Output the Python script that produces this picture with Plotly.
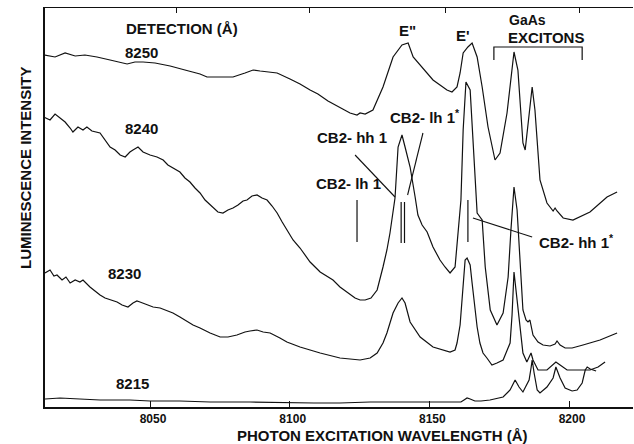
import plotly.graph_objects as go

# ---- data (arbitrary intensity units, curves offset vertically as in the figure) ----
wl_8250 = [8012.0, 8016.0, 8019.6, 8023.2, 8026.7, 8031.0, 8035.7, 8039.3, 8041.8, 8044.6,
           8047.5, 8051.8, 8057.2, 8062.5, 8067.9, 8070.4, 8075.1, 8079.7, 8084.0, 8086.9,
           8089.4, 8093.0, 8095.5, 8100.1, 8103.7, 8107.3, 8110.1, 8113.7, 8118.0, 8121.6,
           8124.1, 8125.2, 8127.0, 8129.8, 8133.4, 8137.0, 8140.2, 8142.4, 8144.2, 8147.7,
           8151.3, 8156.3, 8158.1, 8159.9, 8161.0, 8162.1, 8163.8, 8165.3, 8167.1, 8168.9,
           8171.0, 8173.5, 8175.3, 8177.8, 8179.6, 8180.3, 8181.7, 8183.5, 8184.3, 8185.3,
           8186.8, 8187.8, 8189.6, 8192.1, 8194.3, 8195.0, 8195.7, 8197.9, 8201.4, 8207.5,
           8213.6, 8217.2]
int_8250 = [352, 350, 354, 351, 352, 350, 347, 345, 343, 345,
            345, 344, 341, 337, 333, 330, 330, 330, 334, 337,
            336, 335, 334, 328, 323, 317, 313, 306, 299, 294,
            292, 294, 293, 297, 320, 350, 362, 364, 350, 339,
            327, 317, 315, 320, 334, 354, 360, 364, 350, 320,
            280, 247, 254, 294, 337, 355, 337, 264, 257, 280,
            320, 297, 227, 204, 196, 199, 196, 189, 187, 195,
            210, 215]

wl_8240 = [8012.0, 8014.2, 8016.0, 8017.8, 8019.6, 8021.4, 8022.4, 8024.2, 8026.0, 8027.4,
           8029.2, 8032.1, 8033.9, 8035.7, 8037.5, 8039.3, 8041.1, 8042.8, 8043.9, 8045.7,
           8047.5, 8050.0, 8052.5, 8054.7, 8056.4, 8058.2, 8060.7, 8062.5, 8064.3, 8066.1,
           8067.9, 8069.7, 8071.5, 8072.6, 8074.3, 8076.1, 8077.9, 8079.7, 8081.5, 8083.3,
           8084.7, 8086.5, 8088.3, 8090.1, 8091.9, 8093.7, 8095.5, 8097.3, 8099.0, 8101.2,
           8103.7, 8107.3, 8110.9, 8113.4, 8115.5, 8118.0, 8120.9, 8123.4, 8125.2, 8127.0,
           8129.1, 8131.3, 8133.4, 8134.8, 8135.9, 8137.0, 8137.7, 8138.8, 8140.2, 8141.3,
           8143.1, 8144.9, 8145.9, 8147.4, 8149.2, 8151.3, 8153.8, 8155.6, 8157.4, 8159.2,
           8160.3, 8161.3, 8162.1, 8163.1, 8164.6, 8165.6, 8167.1, 8168.9, 8170.0, 8171.8,
           8174.2, 8176.4, 8178.2, 8179.2, 8180.3, 8181.4, 8182.1, 8182.8, 8183.5, 8184.6,
           8185.3, 8186.0, 8187.1, 8188.9, 8190.7, 8193.2, 8195.0, 8195.7, 8196.8, 8198.6,
           8201.1, 8205.0, 8211.1, 8217.2]
int_8240 = [290, 287, 293, 289, 285, 279, 275, 280, 277, 280,
            276, 274, 267, 260, 257, 252, 250, 255, 257, 260,
            255, 252, 250, 247, 242, 239, 235, 229, 225, 219,
            214, 207, 202, 199, 195, 194, 197, 199, 202, 206,
            207, 211, 212, 209, 207, 201, 194, 185, 177, 167,
            159, 145, 135, 131, 127, 120, 114, 109, 107, 107,
            109, 117, 140, 157, 174, 197, 209, 260, 272, 260,
            240, 210, 192, 182, 175, 160, 147, 140, 134, 140,
            174, 207, 277, 325, 317, 270, 194, 187, 140, 97,
            82, 94, 130, 177, 220, 197, 167, 127, 97, 87,
            85, 87, 72, 65, 62, 61, 63, 66, 62, 59,
            59, 62, 67, 74]

wl_8230 = [8012.4, 8014.2, 8015.6, 8016.7, 8018.5, 8019.9, 8021.4, 8023.2, 8024.9, 8026.0,
           8028.5, 8032.1, 8033.9, 8035.7, 8038.2, 8040.0, 8042.1, 8043.9, 8045.3, 8046.4,
           8048.2, 8051.1, 8053.6, 8056.1, 8058.2, 8060.7, 8063.2, 8065.4, 8067.9, 8071.5,
           8075.1, 8077.9, 8081.1, 8084.0, 8085.8, 8088.3, 8090.5, 8093.0, 8096.5, 8099.0,
           8103.7, 8110.9, 8118.0, 8125.2, 8128.8, 8131.3, 8133.4, 8134.8, 8137.0, 8138.8,
           8140.2, 8141.3, 8143.1, 8144.9, 8146.7, 8151.3, 8157.4, 8159.2, 8159.9, 8161.0,
           8161.7, 8162.8, 8163.5, 8164.6, 8165.3, 8167.1, 8168.1, 8169.2, 8170.6, 8172.4,
           8174.2, 8176.4, 8178.9, 8179.6, 8180.3, 8181.0, 8181.7, 8182.8, 8183.5, 8184.9,
           8186.4, 8187.1, 8188.9, 8192.1, 8194.3, 8195.3, 8196.8, 8199.3, 8203.9, 8207.5,
           8210.4, 8212.9]
int_8230 = [134, 137, 131, 132, 127, 130, 124, 127, 125, 127,
            120, 112, 109, 107, 105, 102, 100, 104, 106, 105,
            103, 100, 99, 96, 94, 90, 86, 82, 79, 74,
            70, 70, 72, 75, 76, 77, 75, 74, 69, 65,
            60, 54, 49, 47, 49, 54, 64, 74, 94, 104,
            109, 104, 85, 77, 70, 60, 55, 57, 64, 82,
            107, 147, 149, 142, 124, 80, 64, 54, 49, 42,
            44, 47, 64, 92, 135, 117, 97, 67, 54, 45,
            54, 47, 37, 37, 42, 45, 42, 37, 37, 37,
            40, 45]

wl_8215 = [8012.4, 8017.8, 8024.9, 8032.1, 8042.8, 8050.0, 8060.7, 8071.5, 8085.8, 8099.8,
           8108.7, 8118.0, 8128.8, 8139.9, 8150.2, 8161.3, 8162.4, 8163.5, 8164.6, 8166.3,
           8168.5, 8171.7, 8176.4, 8178.9, 8180.7, 8182.1, 8183.5, 8184.9, 8185.7, 8186.4,
           8186.8, 8187.5, 8188.6, 8189.6, 8192.1, 8194.3, 8195.3, 8196.8, 8198.6, 8201.1,
           8202.9, 8204.7, 8205.8, 8206.5, 8207.6, 8209.7]
int_8215 = [8, 9, 8, 7, 7, 6, 6, 5, 5, 4,
            4, 4, 5, 5, 5, 5, 7, 9, 8, 6,
            6, 7, 10, 17, 27, 20, 15, 22, 27, 39,
            47, 34, 17, 14, 20, 29, 40, 29, 19, 16,
            17, 24, 37, 40, 38, 36]

x_ticks = [8050, 8100, 8150, 8200]
top_ticks = [8059.3, 8107.2, 8155.9, 8203.9]
marker_wl_a = [8124.1, 8163.8]
marker_wl_b = [8139.9, 8141.1]

FONT = "Liberation Sans, Arial, sans-serif"
INK = "#111111"

fig = go.Figure()
for wl, it in [(wl_8250, int_8250), (wl_8240, int_8240), (wl_8230, int_8230), (wl_8215, int_8215)]:
    fig.add_trace(go.Scatter(x=wl, y=it, mode="lines", line=dict(color=INK, width=1.2),
                             showlegend=False, hoverinfo="skip"))
fig.add_trace(go.Scatter(x=[], y=[], xaxis="x2", showlegend=False))

shapes = []
for w in marker_wl_a:
    shapes.append(dict(type="line", xref="x", yref="y", x0=w, x1=w, y0=165, y1=207,
                       line=dict(color=INK, width=1.2)))
for w in marker_wl_b:
    shapes.append(dict(type="line", xref="x", yref="y", x0=w, x1=w, y0=164, y1=205,
                       line=dict(color=INK, width=1.2)))
# leader lines
for (xa, ya, xb, yb) in [(8123.4, 252, 8137.7, 210), (8147.7, 274, 8142.2, 212),
                         (8165.6, 189, 8186.8, 170)]:
    shapes.append(dict(type="line", xref="x", yref="y", x0=xa, y0=ya, x1=xb, y1=yb,
                       line=dict(color=INK, width=1.1)))
# exciton bracket
shapes.append(dict(type="path", xref="x", yref="y",
                   path="M 8173.1 347 L 8173.1 360 L 8204.7 360 L 8204.7 347",
                   line=dict(color=INK, width=1.2)))

def ann(text, x, y, size=15, **kw):
    return dict(text=f"<b>{text}</b>", x=x, y=y, xref="x", yref="y", showarrow=False,
                font=dict(family=FONT, size=size, color=INK), **kw)

annotations = [
    ann("DETECTION (Å)", 8061.5, 379),
    ann("8250", 8047.1, 355),
    ann("8240", 8047.1, 279),
    ann("8230", 8041.0, 134),
    ann("8215", 8043.9, 24),
    ann('E"', 8142.0, 377),
    ann("E'", 8162.1, 372),
    ann("GaAs", 8185.0, 387, size=14),
    ann("EXCITONS", 8191.8, 370),
    ann("CB2- lh 1<sup>*</sup>", 8148.3, 291),
    ann("CB2- hh 1", 8122.3, 270),
    ann("CB2- lh 1", 8121.2, 224),
    ann("CB2- hh 1<sup>*</sup>", 8202.8, 166),
    dict(text="<b>PHOTON EXCITATION WAVELENGTH (Å)</b>", x=382, y=435.5, xref="paper", yref="paper",
         showarrow=False, font=dict(family=FONT, size=15, color=INK)),
    dict(text="<b>LUMINESCENCE INTENSITY</b>", x=25, y=168, textangle=-90, showarrow=False,
         font=dict(family=FONT, size=15, color=INK)),
]
# convert the two axis-title positions from pixels to paper fractions
W, H = 634, 444
L, R, T, B = 45, 1, 8, 37
pw, ph = W - L - R, H - T - B
for a in annotations[-2:]:
    a["xref"] = "paper"; a["yref"] = "paper"
    a["x"] = (a["x"] - L) / pw
    a["y"] = (H - B - a["y"]) / ph
    a["xanchor"] = "center"; a["yanchor"] = "middle"

xr = [8012.4, 8222.9]
fig.update_layout(
    width=W, height=H, margin=dict(l=L, r=R, t=T, b=B),
    paper_bgcolor="white", plot_bgcolor="white",
    font=dict(family=FONT, color=INK),
    xaxis=dict(range=xr, tickvals=x_ticks, ticktext=[f"<b>{v}</b>" for v in x_ticks],
               ticks="inside", ticklen=6, tickwidth=1.2, tickcolor=INK,
               showline=True, linecolor=INK, linewidth=1.5, showgrid=False, zeroline=False,
               tickfont=dict(family=FONT, size=12, color=INK), ticklabelstandoff=0,
               ticklabelshift=3),
    xaxis2=dict(range=xr, overlaying="x", side="top", tickvals=top_ticks, showticklabels=False,
                ticks="inside", ticklen=5, tickwidth=1.2, tickcolor=INK,
                showline=True, linecolor=INK, linewidth=1.2, showgrid=False, zeroline=False),
    yaxis=dict(range=[0, 399], showline=True, linecolor=INK, linewidth=1.5, showgrid=False,
               zeroline=False, showticklabels=False, ticks=""),
    shapes=shapes, annotations=annotations,
)
fig.write_html("out.html")
